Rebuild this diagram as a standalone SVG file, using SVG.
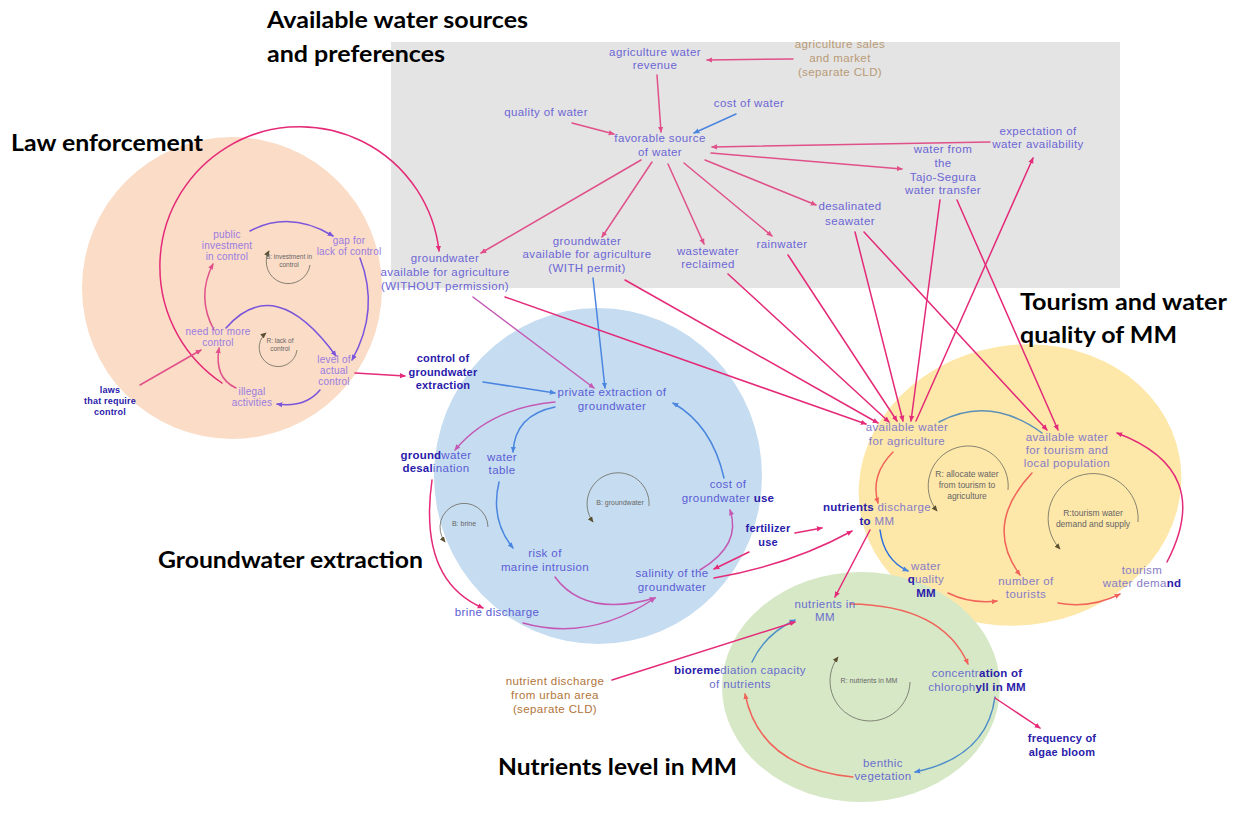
<svg xmlns="http://www.w3.org/2000/svg" width="1237" height="821" viewBox="0 0 1237 821">
<style>
  .title{font-family:Lato,"Open Sans","Liberation Sans",sans-serif;font-weight:700;font-size:23px;fill:#000}
  text.n{font-family:"Liberation Sans",Arial,sans-serif;font-size:11.5px;text-anchor:middle;letter-spacing:0.4px}
  text.law{font-size:10px;letter-spacing:0.2px;fill:#9a7be0}
  .g{fill:#6c66d4}
  .b{fill:#5a5cd6}
  .y{fill:#877cc6}
  .gr{fill:#6a6ecc}
  .tan{fill:#b99a76}
  .brn{fill:#b2743a}
  text.dk,tspan.dk{fill:#2a20aa;font-weight:700;letter-spacing:0.2px}
  text.dk{font-size:11px}
  text.lp{font-family:"Liberation Sans",Arial,sans-serif;text-anchor:middle;fill:#666;font-size:7px}
  .c{fill:none;stroke-width:1.5;stroke-linecap:round}
  .pk{stroke:#e0508a;marker-end:url(#ap)}
  .mg{stroke:#e42a78;marker-end:url(#am)}
  .pu{stroke:#7a55dc;marker-end:url(#apu)}
  .bl{stroke:#4a86e0;marker-end:url(#ab)}
  .sa{stroke:#f0645a;marker-end:url(#as)}
  .vp{stroke:#c458b4;marker-end:url(#av)}
  .lpc{fill:none;stroke:#6a6a60;stroke-width:0.8;marker-end:url(#al)}
</style>
<defs>
  <marker id="ap" viewBox="0 0 8 8" refX="7" refY="4" markerWidth="6" markerHeight="6" orient="auto" markerUnits="userSpaceOnUse"><path d="M0,0.5 L8,4 L0,7.5z" fill="#e0508a"/></marker>
  <marker id="am" viewBox="0 0 8 8" refX="7" refY="4" markerWidth="6" markerHeight="6" orient="auto" markerUnits="userSpaceOnUse"><path d="M0,0.5 L8,4 L0,7.5z" fill="#e42a78"/></marker>
  <marker id="apu" viewBox="0 0 8 8" refX="7" refY="4" markerWidth="6" markerHeight="6" orient="auto" markerUnits="userSpaceOnUse"><path d="M0,0.5 L8,4 L0,7.5z" fill="#7a55dc"/></marker>
  <marker id="ab" viewBox="0 0 8 8" refX="7" refY="4" markerWidth="6" markerHeight="6" orient="auto" markerUnits="userSpaceOnUse"><path d="M0,0.5 L8,4 L0,7.5z" fill="#4a86e0"/></marker>
  <marker id="as" viewBox="0 0 8 8" refX="7" refY="4" markerWidth="6" markerHeight="6" orient="auto" markerUnits="userSpaceOnUse"><path d="M0,0.5 L8,4 L0,7.5z" fill="#f0645a"/></marker>
  <marker id="av" viewBox="0 0 8 8" refX="7" refY="4" markerWidth="6" markerHeight="6" orient="auto" markerUnits="userSpaceOnUse"><path d="M0,0.5 L8,4 L0,7.5z" fill="#c458b4"/></marker>
  <marker id="al" viewBox="0 0 8 8" refX="7" refY="4" markerWidth="6" markerHeight="6" orient="auto" markerUnits="userSpaceOnUse"><path d="M0,0.5 L8,4 L0,7.5z" fill="#5a5030"/></marker>
</defs>

<rect width="1237" height="821" fill="#fff"/>

<!-- subsystem backgrounds -->
<g id="regions">
  <rect id="region-sources" x="391" y="42" width="729" height="246" fill="#e4e4e4"/>
  <ellipse id="region-law" cx="232" cy="288" rx="150" ry="151" fill="#fbdcc6"/>
  <ellipse id="region-groundwater" cx="598" cy="476" rx="164" ry="168" fill="#c6dcf0"/>
  <ellipse id="region-tourism" cx="1020" cy="485" rx="162" ry="140" transform="rotate(-10 1020 485)" fill="#fde7a9"/>
  <ellipse id="region-nutrients" cx="861" cy="687" rx="139" ry="115" fill="#d7e8c7"/>
</g>

<!-- subsystem titles -->
<g id="titles">
  <text class="title" x="267" y="28" textLength="261" lengthAdjust="spacingAndGlyphs">Available water sources</text>
  <text class="title" x="267" y="62" textLength="178" lengthAdjust="spacingAndGlyphs">and preferences</text>
  <text class="title" x="11" y="151" textLength="192" lengthAdjust="spacingAndGlyphs">Law enforcement</text>
  <text class="title" x="1020" y="310" textLength="207" lengthAdjust="spacingAndGlyphs">Tourism and water</text>
  <text class="title" x="1020" y="343" textLength="157" lengthAdjust="spacingAndGlyphs">quality of MM</text>
  <text class="title" x="158" y="568" textLength="265" lengthAdjust="spacingAndGlyphs">Groundwater extraction</text>
  <text class="title" x="498" y="775" textLength="239" lengthAdjust="spacingAndGlyphs">Nutrients level in MM</text>
</g>

<!-- causal links -->
<g id="connectors">
  <!-- water sources and preferences -->
  <path class="c pk" d="M793,59 L707,60"/>
  <path class="c pk" d="M657,75 L661,132"/>
  <path class="c pk" d="M572,123 L614,134"/>
  <path class="c bl" d="M736,114 L694,133"/>
  <path class="c pk" d="M990,142 L712,147"/>
  <path class="c pk" d="M711,153 L902,169"/>
  <path class="c pk" d="M705,160 L816,205"/>
  <path class="c pk" d="M684,163 L772,236"/>
  <path class="c pk" d="M668,164 L704,244"/>
  <path class="c pk" d="M652,162 L602,237"/>
  <path class="c pk" d="M641,160 L481,253"/>
  <path class="c mg" d="M222,383 A140,140 0 1 1 439,251"/>

  <!-- sources feeding water availability -->
  <path class="c vp" d="M473,297 L594,388"/>
  <path class="c bl" d="M593,278 L605,388"/>
  <path class="c mg" d="M505,297 L866,424"/>
  <path class="c mg" d="M625,280 L878,423"/>
  <path class="c mg" d="M728,274 L889,422"/>
  <path class="c mg" d="M788,255 L897,421"/>
  <path class="c mg" d="M855,232 L903,421"/>
  <path class="c mg" d="M864,232 L1047,430"/>
  <path class="c mg" d="M940,200 L911,421"/>
  <path class="c mg" d="M957,200 L1058,430"/>
  <path class="c mg" d="M916,421 L1033,158"/>

  <!-- law enforcement -->
  <path class="c pu" d="M250,231 Q290,210 333,236"/>
  <path class="c pu" d="M360,258 Q380,310 352,360"/>
  <path class="c pu" d="M226,328 Q275,272 336,356"/>
  <path class="c pu" d="M320,390 Q305,408 277,404"/>
  <path class="c pk" d="M214,330 Q196,297 213,264"/>
  <path class="c pk" d="M236,388 Q214,378 219,348"/>
  <path class="c pk" d="M140,385 L201,350"/>
  <path class="c mg" d="M355,373 L405,376"/>

  <!-- groundwater extraction -->
  <path class="c bl" d="M483,382 L555,393"/>
  <path class="c vp" d="M555,402 Q490,408 455,450"/>
  <path class="c bl" d="M555,407 Q515,415 513,452"/>
  <path class="c bl" d="M724,478 Q712,425 673,403"/>
  <path class="c bl" d="M499,482 Q490,520 513,548"/>
  <path class="c mg" d="M432,480 Q418,580 483,608"/>
  <path class="c vp" d="M555,577 Q585,618 655,598"/>
  <path class="c vp" d="M523,623 Q590,642 655,598"/>
  <path class="c vp" d="M700,570 Q742,545 730,510"/>
  <path class="c mg" d="M795,533 L822,528"/>
  <path class="c mg" d="M749,552 L714,569"/>
  <path class="c mg" d="M714,578 Q790,565 852,531"/>
  <path class="c mg" d="M870,530 L835,597"/>

  <!-- tourism and water quality -->
  <path class="c sa" d="M893,452 Q870,475 878,503"/>
  <path class="c" stroke="#5a90b8" d="M1042,433 Q990,395 939,422"/>
  <path class="c sa" d="M1032,473 Q983,525 1020,575"/>
  <path class="c sa" d="M1058,603 Q1090,609 1120,594"/>
  <path class="c mg" d="M1167,562 Q1215,470 1117,433"/>
  <path class="c sa" d="M948,593 Q970,604 997,601"/>
  <path class="c" stroke="#2a6ee0" marker-end="url(#ab)" d="M880,530 Q884,560 908,571"/>

  <!-- nutrients level -->
  <path class="c sa" d="M850,604 Q942,605 968,664"/>
  <path class="c" stroke="#4f90c8" marker-end="url(#ab)" d="M995,697 Q987,757 915,772"/>
  <path class="c sa" d="M853,777 Q760,768 745,694"/>
  <path class="c" stroke="#4f90c8" marker-end="url(#ab)" d="M752,662 Q765,634 795,620"/>
  <path class="c mg" d="M612,680 L795,622"/>
  <path class="c mg" d="M995,698 L1040,728"/>

  <!-- loop indicators -->
  <path class="lpc" d="M310,265 A22,22 0 1 1 269,251"/>
  <path class="lpc" d="M297,350 A19,19 0 1 1 266,333"/>
  <path class="lpc" d="M488,527 A24,24 0 1 0 445,542"/>
  <path class="lpc" d="M649,506 A31,31 0 1 0 593,522"/>
  <path class="lpc" d="M1008,490 A40,40 0 1 0 937,511"/>
  <path class="lpc" d="M1138,522 A45,45 0 1 0 1060,549"/>
  <path class="lpc" d="M910,682 A40,40 0 1 1 838,657"/>
</g>

<!-- variables: water sources and preferences -->
<g id="agriculture-water-revenue"><text class="n g"><tspan x="655" y="56">agriculture water</tspan><tspan x="655" y="69">revenue</tspan></text></g>
<g id="agriculture-sales"><text class="n tan"><tspan x="840" y="48">agriculture sales</tspan><tspan x="840" y="62">and market</tspan><tspan x="840" y="76">(separate CLD)</tspan></text></g>
<g id="quality-of-water"><text class="n g" x="546" y="116">quality of water</text></g>
<g id="cost-of-water"><text class="n g" x="749" y="107">cost of water</text></g>
<g id="favorable-source"><text class="n g"><tspan x="660" y="142">favorable source</tspan><tspan x="660" y="156">of water</tspan></text></g>
<g id="expectation"><text class="n g"><tspan x="1038" y="135">expectation of</tspan><tspan x="1038" y="148">water availability</tspan></text></g>
<g id="tajo-segura"><text class="n g"><tspan x="943" y="153">water from</tspan><tspan x="943" y="167">the</tspan><tspan x="943" y="181">Tajo-Segura</tspan><tspan x="943" y="194">water transfer</tspan></text></g>
<g id="desalinated-seawater"><text class="n g"><tspan x="850" y="210">desalinated</tspan><tspan x="850" y="225">seawater</tspan></text></g>
<g id="rainwater"><text class="n g" x="782" y="248">rainwater</text></g>
<g id="wastewater"><text class="n g"><tspan x="708" y="255">wastewater</tspan><tspan x="708" y="268">reclaimed</tspan></text></g>
<g id="gw-with-permit"><text class="n g"><tspan x="587" y="245">groundwater</tspan><tspan x="587" y="258">available for agriculture</tspan><tspan x="587" y="272">(WITH permit)</tspan></text></g>
<g id="gw-without-permission"><text class="n g"><tspan x="445" y="262">groundwater</tspan><tspan x="445" y="276">available for agriculture</tspan><tspan x="445" y="290">(WITHOUT permission)</tspan></text></g>

<!-- variables: law enforcement -->
<g id="public-investment"><text class="n law"><tspan x="227" y="238">public</tspan><tspan x="227" y="249">investment</tspan><tspan x="227" y="260">in control</tspan></text></g>
<g id="gap-for-lack"><text class="n law"><tspan x="349" y="244">gap for</tspan><tspan x="349" y="255">lack of control</tspan></text></g>
<g id="need-for-control"><text class="n law"><tspan x="218" y="335">need for more</tspan><tspan x="218" y="346">control</tspan></text></g>
<g id="level-of-control"><text class="n law"><tspan x="334" y="363">level of</tspan><tspan x="334" y="374">actual</tspan><tspan x="334" y="385">control</tspan></text></g>
<g id="illegal-activities"><text class="n law"><tspan x="252" y="395">illegal</tspan><tspan x="252" y="406">activities</tspan></text></g>
<g id="laws"><text class="n dk" style="font-size:9px"><tspan x="110" y="393">laws</tspan><tspan x="110" y="404">that require</tspan><tspan x="110" y="415">control</tspan></text></g>
<g id="loop-investment"><text class="lp" style="font-size:6.5px"><tspan x="289" y="259">B: investment in</tspan><tspan x="289" y="267">control</tspan></text></g>
<g id="loop-lack"><text class="lp" style="font-size:6.5px"><tspan x="280" y="343">R: lack of</tspan><tspan x="280" y="351">control</tspan></text></g>

<!-- variables: groundwater extraction -->
<g id="control-extraction"><text class="n dk"><tspan x="443" y="362">control of</tspan><tspan x="443" y="376">groundwater</tspan><tspan x="443" y="389">extraction</tspan></text></g>
<g id="private-extraction"><text class="n b"><tspan x="612" y="396">private extraction of</tspan><tspan x="612" y="410">groundwater</tspan></text></g>
<g id="gw-desalination"><text class="n b"><tspan x="436" y="459"><tspan class="dk">ground</tspan>water</tspan><tspan x="436" y="472"><tspan class="dk">desal</tspan>ination</tspan></text></g>
<g id="water-table"><text class="n b"><tspan x="502" y="461">water</tspan><tspan x="502" y="474">table</tspan></text></g>
<g id="cost-gw-use"><text class="n b"><tspan x="728" y="488">cost of</tspan><tspan x="728" y="502">groundwater <tspan class="dk">use</tspan></tspan></text></g>
<g id="marine-intrusion"><text class="n b"><tspan x="545" y="557">risk of</tspan><tspan x="545" y="571">marine intrusion</tspan></text></g>
<g id="salinity"><text class="n b"><tspan x="672" y="577">salinity of the</tspan><tspan x="672" y="591">groundwater</tspan></text></g>
<g id="brine-discharge"><text class="n b" x="497" y="616">brine discharge</text></g>
<g id="fertilizer-use"><text class="n dk"><tspan x="768" y="532">fertilizer</tspan><tspan x="768" y="546">use</tspan></text></g>
<g id="loop-brine"><text class="lp" x="464" y="526">B: brine</text></g>
<g id="loop-groundwater"><text class="lp" x="620" y="505">B: groundwater</text></g>

<!-- variables: tourism and water quality -->
<g id="water-agriculture"><text class="n y"><tspan x="907" y="431">available water</tspan><tspan x="907" y="445">for agriculture</tspan></text></g>
<g id="water-tourism"><text class="n y"><tspan x="1067" y="441">available water</tspan><tspan x="1067" y="454">for tourism and</tspan><tspan x="1067" y="467">local population</tspan></text></g>
<g id="nutrients-discharge"><text class="n y"><tspan x="877" y="511"><tspan class="dk">nutrients</tspan> discharge</tspan><tspan x="877" y="525"><tspan class="dk">to</tspan> MM</tspan></text></g>
<g id="water-quality"><text class="n y"><tspan x="926" y="570">water</tspan><tspan x="926" y="583"><tspan class="dk">q</tspan>uality</tspan><tspan x="926" y="597" class="dk">MM</tspan></text></g>
<g id="number-of-tourists"><text class="n y"><tspan x="1026" y="585">number of</tspan><tspan x="1026" y="598">tourists</tspan></text></g>
<g id="tourism-demand"><text class="n y"><tspan x="1142" y="574">tourism</tspan><tspan x="1142" y="587">water dema<tspan class="dk">nd</tspan></tspan></text></g>
<g id="loop-allocate"><text class="lp" style="font-size:8.5px"><tspan x="967" y="477">R: allocate water</tspan><tspan x="967" y="488">from tourism to</tspan><tspan x="967" y="499">agriculture</tspan></text></g>
<g id="loop-tourism"><text class="lp" style="font-size:8.5px"><tspan x="1093" y="516">R:tourism water</tspan><tspan x="1093" y="527">demand and supply</tspan></text></g>

<!-- variables: nutrients level in MM -->
<g id="nutrients-in-mm"><text class="n gr"><tspan x="825" y="608">nutrients in</tspan><tspan x="825" y="621">MM</tspan></text></g>
<g id="bioremediation"><text class="n gr"><tspan x="740" y="674"><tspan class="dk">bioreme</tspan>diation capacity</tspan><tspan x="740" y="688">of nutrients</tspan></text></g>
<g id="chlorophyll"><text class="n gr"><tspan x="977" y="677">concentr<tspan class="dk">ation of</tspan></tspan><tspan x="977" y="691">chloroph<tspan class="dk">yll in MM</tspan></tspan></text></g>
<g id="benthic-vegetation"><text class="n gr"><tspan x="883" y="767">benthic</tspan><tspan x="883" y="780">vegetation</tspan></text></g>
<g id="algae-bloom"><text class="n dk"><tspan x="1062" y="742">frequency of</tspan><tspan x="1062" y="756">algae bloom</tspan></text></g>
<g id="urban-discharge"><text class="n brn"><tspan x="555" y="685">nutrient discharge</tspan><tspan x="555" y="699">from urban area</tspan><tspan x="555" y="713">(separate CLD)</tspan></text></g>
<g id="loop-nutrients"><text class="lp" x="869" y="683">R: nutrients in MM</text></g>
</svg>
